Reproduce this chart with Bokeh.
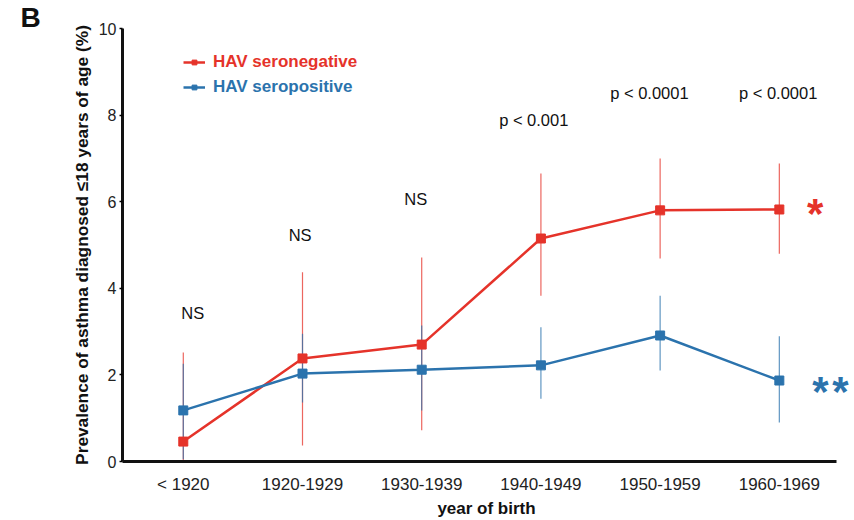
from bokeh.plotting import figure
from bokeh.models import ColumnDataSource, Range1d, FixedTicker, Legend, LegendItem, Label, Title
from bokeh.core.properties import value
from bokeh.embed import file_html
from bokeh.resources import INLINE

categories = ["< 1920", "1920-1929", "1930-1939", "1940-1949", "1950-1959", "1960-1969"]
neg_mean = [0.46, 2.38, 2.70, 5.15, 5.80, 5.82]
neg_low = [0.0, 0.37, 0.72, 3.83, 4.69, 4.80]
neg_high = [2.52, 4.37, 4.71, 6.65, 7.00, 6.88]
pos_mean = [1.18, 2.03, 2.12, 2.22, 2.91, 1.87]
pos_low = [0.05, 1.36, 1.18, 1.45, 2.10, 0.90]
pos_high = [2.26, 2.95, 3.14, 3.10, 3.83, 2.89]
ann_labels = ["NS", "NS", "NS", "p < 0.001", "p < 0.0001", "p < 0.0001"]
ann_y = [3.44, 5.24, 6.07, 7.88, 8.50, 8.50]
ann_dx = [0.08, -0.02, -0.05, -0.06, -0.09, -0.01]
y_ticks = [0, 2, 4, 6, 8, 10]

RED = "#e5332a"
BLUE = "#2b73ad"
FONT = "Liberation Sans"

xs = list(range(len(categories)))
x_last = len(categories) - 1

p = figure(width=850, height=520, output_backend="svg", toolbar_location=None,
           x_range=Range1d(-0.51, 5.597), y_range=Range1d(0, 10),
           min_border_left=122, min_border_right=0, min_border_top=28, min_border_bottom=59)
p.outline_line_color = None
p.xgrid.visible = False
p.ygrid.visible = False

p.add_layout(Title(text="B", align="left", offset=-102, standoff=-9,
                   text_font=FONT, text_font_size="28px", text_font_style="bold",
                   text_color="#111111"), "above")

neg = ColumnDataSource(dict(x=xs, m=neg_mean, lo=neg_low, hi=neg_high))
pos = ColumnDataSource(dict(x=xs, m=pos_mean, lo=pos_low, hi=pos_high))

p.segment(x0="x", y0="lo", x1="x", y1="hi", source=neg, line_color=RED, line_width=1.2, line_alpha=0.75)
p.segment(x0="x", y0="lo", x1="x", y1="hi", source=pos, line_color=BLUE, line_width=1.2, line_alpha=0.75)
rl = p.line("x", "m", source=neg, line_color=RED, line_width=2.5)
rs = p.scatter("x", "m", source=neg, marker="square", size=9, fill_color=RED, line_color=RED)
bl = p.line("x", "m", source=pos, line_color=BLUE, line_width=2.5)
bs = p.scatter("x", "m", source=pos, marker="square", size=9, fill_color=BLUE, line_color=BLUE)

ann = ColumnDataSource(dict(x=[i + d for i, d in zip(xs, ann_dx)], y=ann_y, t=ann_labels))
p.text("x", "y", text="t", source=ann, text_font=value(FONT), text_font_size="16.5px",
       text_align="center", text_baseline="middle", text_color="#111111")

p.add_layout(Label(x=x_last + 0.30, y=5.72, text="*", text_color=RED, text_font=FONT, text_font_size="42px",
                   text_font_style="bold", text_align="center", text_baseline="alphabetic"))
for bx in (0.345, 0.513):
    p.add_layout(Label(x=x_last + bx, y=1.61, text="*", text_color=BLUE, text_font=FONT, text_font_size="42px",
                       text_font_style="bold", text_align="center", text_baseline="alphabetic"))

for name, col, rends, ly in [("HAV seronegative", RED, [rl, rs], 389), ("HAV seropositive", BLUE, [bl, bs], 364)]:
    lg = Legend(items=[LegendItem(label=name, renderers=rends)], location=(61, ly),
                label_text_color=col, label_text_font=FONT, label_text_font_size="17px",
                label_text_font_style="bold", glyph_width=22, glyph_height=12, label_height=12,
                label_standoff=8, padding=0, margin=0, border_line_color=None,
                background_fill_alpha=0)
    p.add_layout(lg, "center")

p.xaxis.ticker = FixedTicker(ticks=xs)
p.xaxis.bounds = (-0.51, 5.48)
p.xaxis.major_label_overrides = {i: c for i, c in enumerate(categories)}
p.yaxis.ticker = FixedTicker(ticks=y_ticks)
p.yaxis.minor_tick_line_color = None
p.xaxis.minor_tick_line_color = None
p.xaxis.major_tick_line_color = None
p.xaxis.major_tick_out = 0
p.xaxis.major_tick_in = 0
p.yaxis.major_tick_out = 3
p.yaxis.major_tick_in = 0
p.yaxis.major_tick_line_width = 1.5
for ax in (p.xaxis[0], p.yaxis[0]):
    ax.axis_line_width = 3
    ax.axis_line_color = "#111111"
    ax.major_label_text_font = FONT
    ax.major_label_text_color = "#222222"
    ax.axis_label_text_font = FONT
    ax.axis_label_text_font_style = "bold"
    ax.axis_label_text_color = "#111111"
p.xaxis.major_label_text_font_size = "17px"
p.yaxis.major_label_text_font_size = "16px"
p.xaxis.axis_label = "year of birth"
p.xaxis.axis_label_text_font_size = "17px"
p.xaxis.major_label_standoff = 13
p.xaxis.axis_label_standoff = 2
p.yaxis.axis_label = "Prevalence of asthma diagnosed \u226418 years of age (%)"
p.yaxis.axis_label_text_font_size = "17.3px"
p.yaxis.major_label_standoff = 3
p.yaxis.axis_label_standoff = 4

open("out.html", "w").write(file_html(p, INLINE))
